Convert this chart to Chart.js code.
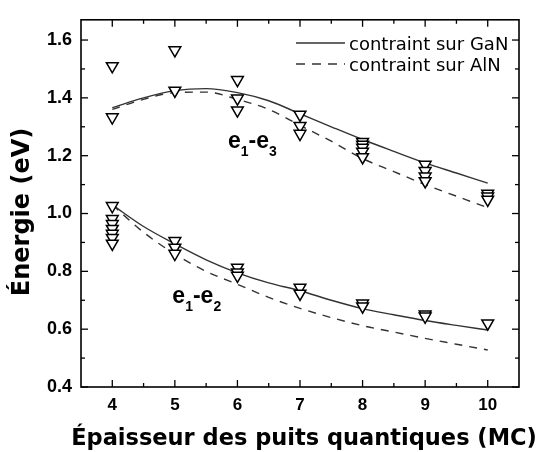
<!DOCTYPE html>
<html><head><meta charset="utf-8">
<script src="https://cdn.jsdelivr.net/npm/chart.js@4.4.1/dist/chart.umd.min.js"></script>
<style>html,body{margin:0;padding:0;background:#fff;}#wrap{width:541px;height:452px;}</style>
</head><body><div id="wrap"><canvas id="c" width="541" height="452"></canvas></div>
<script>
// ---- data ----
const curveX      = [4, 4.5, 5, 5.5, 6, 6.5, 7, 7.5, 8, 8.5, 9, 9.5, 10];
const gan_e1e3    = [1.366, 1.400, 1.425, 1.432, 1.418, 1.390, 1.345, 1.300, 1.256, 1.215, 1.175, 1.140, 1.105];
const aln_e1e3    = [1.360, 1.395, 1.418, 1.420, 1.395, 1.360, 1.305, 1.250, 1.190, 1.145, 1.100, 1.060, 1.020];
const gan_e1e2    = [1.030, 0.955, 0.895, 0.840, 0.795, 0.760, 0.733, 0.700, 0.671, 0.650, 0.630, 0.613, 0.597];
const aln_e1e2    = [1.030, 0.935, 0.860, 0.800, 0.755, 0.710, 0.672, 0.640, 0.612, 0.590, 0.568, 0.548, 0.528];

const expX_e1e3   = [4, 4, 5, 5, 6, 6, 6, 7, 7, 7, 8, 8, 8, 8, 8, 9, 9, 9, 9, 10, 10, 10];
const expY_e1e3   = [1.510, 1.333, 1.565, 1.425, 1.462, 1.398, 1.357, 1.342, 1.303, 1.276,
                     1.248, 1.238, 1.228, 1.214, 1.195, 1.169, 1.147, 1.128, 1.112, 1.069, 1.059, 1.048];
const expX_e1e2   = [4, 4, 4, 4, 4, 4, 4, 5, 5, 5, 6, 6, 6, 7, 7, 8, 8, 9, 9, 10];
const expY_e1e2   = [1.026, 0.981, 0.964, 0.947, 0.930, 0.916, 0.896, 0.905, 0.882, 0.861,
                     0.813, 0.796, 0.785, 0.744, 0.723, 0.689, 0.679, 0.651, 0.644, 0.620];

const xMajorTicks = [4, 5, 6, 7, 8, 9, 10];
const xMinorTicks = [4.5, 5.5, 6.5, 7.5, 8.5, 9.5];
const yMajorTicks = [0.4, 0.6, 0.8, 1.0, 1.2, 1.4, 1.6];
const yMinorTicks = [0.5, 0.7, 0.9, 1.1, 1.3, 1.5];

const legendLabels = ['contraint sur GaN', 'contraint sur AlN'];
const xTitle = 'Épaisseur des puits quantiques (MC)';
const yTitle = 'Énergie (eV)';
const bandLabels = [[['e', ''], ['1', 'sub'], ['-e', ''], ['3', 'sub']],
                    [['e', ''], ['1', 'sub'], ['-e', ''], ['2', 'sub']]];

// ---- build ----
const pts = (xs, ys) => xs.map((v, i) => ({x: v, y: ys[i]}));
const lineDs = (ys, dashed) => ({
  type: 'line', data: pts(curveX, ys), borderColor: '#333', borderWidth: 1.4,
  borderDash: dashed ? [8, 7] : [], pointRadius: 0, fill: false,
  cubicInterpolationMode: 'monotone', order: 2
});
const markDs = (xs, ys) => ({
  type: 'scatter', data: pts(xs, ys), pointStyle: 'triangle', rotation: 180,
  pointRadius: 6.8, pointHoverRadius: 6.8, borderColor: '#000', backgroundColor: '#fff',
  pointBorderWidth: 1.5, borderWidth: 1.5, order: 1
});

const annot = {
  pos: [{x: 5.85, y: 1.226}, {x: 4.96, y: 0.689}],
  mainFont: 'bold 23px "Liberation Sans", Arial, sans-serif',
  subFont: 'bold 14px "Liberation Sans", Arial, sans-serif'
};

const deco = {
  id: 'deco',
  afterDraw(chart) {
    const {ctx, chartArea: a, scales: {x, y}} = chart;
    ctx.save();
    ctx.strokeStyle = '#000';
    ctx.lineWidth = 1.3;
    const tick = (px, py, dx, dy) => { ctx.beginPath(); ctx.moveTo(px, py); ctx.lineTo(px + dx, py + dy); ctx.stroke(); };
    xMajorTicks.forEach(v => { const p = x.getPixelForValue(v); tick(p, a.bottom, 0, -7); tick(p, a.top, 0, 7); });
    xMinorTicks.forEach(v => { const p = x.getPixelForValue(v); tick(p, a.bottom, 0, -4); tick(p, a.top, 0, 4); });
    yMajorTicks.forEach(v => { const p = y.getPixelForValue(v); tick(a.left, p, 7, 0); tick(a.right, p, -7, 0); });
    yMinorTicks.forEach(v => { const p = y.getPixelForValue(v); tick(a.left, p, 4, 0); tick(a.right, p, -4, 0); });
    ctx.lineWidth = 1.6;
    ctx.strokeRect(a.left, a.top, a.right - a.left, a.bottom - a.top);

    // axis titles
    ctx.fillStyle = '#000';
    ctx.font = 'bold 22.5px "DejaVu Sans", sans-serif';
    ctx.textAlign = 'center'; ctx.textBaseline = 'alphabetic';
    ctx.fillText(xTitle, 304, 445);
    ctx.save();
    ctx.font = 'bold 24px "DejaVu Sans", sans-serif';
    ctx.translate(29, 212);
    ctx.rotate(-Math.PI / 2);
    ctx.textAlign = 'center';
    ctx.fillText(yTitle, 0, 0);
    ctx.restore();

    // legend
    ctx.font = '18px "DejaVu Sans", sans-serif';
    ctx.textAlign = 'left'; ctx.textBaseline = 'middle';
    legendLabels.forEach((t, i) => {
      const yy = 43 + i * 21;
      ctx.strokeStyle = '#333'; ctx.lineWidth = 1.4;
      ctx.setLineDash(i === 1 ? [9, 7] : []);
      ctx.beginPath(); ctx.moveTo(296, yy); ctx.lineTo(345, yy); ctx.stroke();
      ctx.setLineDash([]);
      ctx.fillText(t, 349, yy + 2);
    });

    // band labels
    ctx.textBaseline = 'alphabetic';
    bandLabels.forEach((parts, i) => {
      let px = x.getPixelForValue(annot.pos[i].x);
      const py = y.getPixelForValue(annot.pos[i].y);
      parts.forEach(([t, kind]) => {
        ctx.font = kind === 'sub' ? annot.subFont : annot.mainFont;
        ctx.fillText(t, px, kind === 'sub' ? py + 8 : py);
        px += ctx.measureText(t).width;
      });
    });
    ctx.restore();
  }
};

new Chart(document.getElementById('c'), {
  data: {
    datasets: [
      markDs(expX_e1e3, expY_e1e3),
      markDs(expX_e1e2, expY_e1e2),
      lineDs(gan_e1e3, false),
      lineDs(aln_e1e3, true),
      lineDs(gan_e1e2, false),
      lineDs(aln_e1e2, true)
    ]
  },
  options: {
    responsive: false, animation: false, devicePixelRatio: 1,
    layout: {padding: {left: 0, right: 22, top: 18, bottom: 0}},
    plugins: {legend: {display: false}, tooltip: {enabled: false}},
    scales: {
      x: {
        type: 'linear', position: 'bottom', min: 3.5, max: 10.5,
        grid: {display: false, drawTicks: false}, border: {display: false},
        afterBuildTicks: s => { s.ticks = xMajorTicks.map(v => ({value: v})); },
        afterFit: s => { s.height = 65; },
        ticks: {padding: 8, color: '#000', font: {family: '"Liberation Sans", Arial, sans-serif', weight: 'bold', size: 17},
                callback: v => String(v)}
      },
      y: {
        type: 'linear', position: 'left', min: 0.4, max: 1.67,
        grid: {display: false, drawTicks: false}, border: {display: false},
        afterBuildTicks: s => { s.ticks = yMajorTicks.map(v => ({value: v})); },
        afterFit: s => { s.width = 81; },
        ticks: {padding: 9, color: '#000', font: {family: '"Liberation Sans", Arial, sans-serif', weight: 'bold', size: 18},
                callback: v => v.toFixed(1)}
      }
    }
  },
  plugins: [deco]
});
</script></body></html>
